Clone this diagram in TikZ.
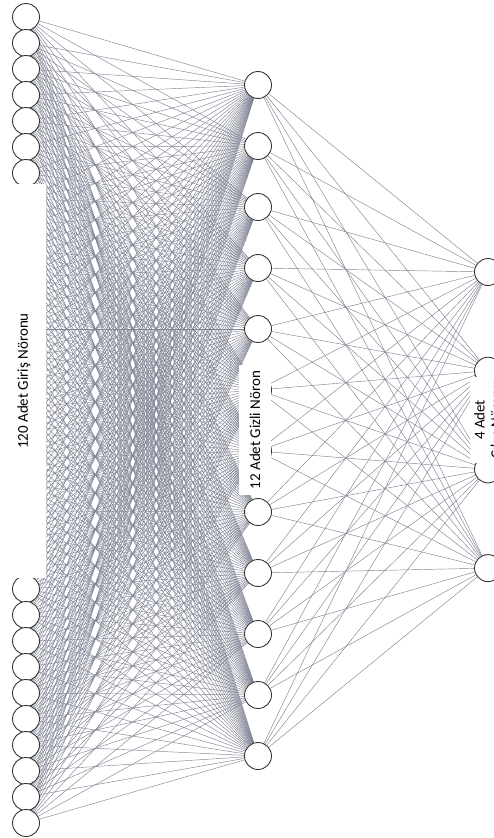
\documentclass[tikz,border=0pt]{standalone}
\usepackage{fontspec}
\setmainfont{Carlito}
\usepackage{tikz}
\usetikzlibrary{backgrounds}
\definecolor{wire}{RGB}{128,132,148}
\definecolor{rim}{RGB}{55,55,55}
\tikzset{
  neuron/.style ={circle, draw=rim, line width=0.9pt, fill=white, minimum size=27pt, inner sep=0pt},
  wire/.style   ={draw=wire, line width=0.45pt},
  tag/.style    ={fill=white, inner sep=4pt, align=center, font=\fontsize{15}{16.5}\selectfont},
}

\begin{document}
\begin{tikzpicture}[x=1pt, y=-1pt]
  \useasboundingbox (0,0) rectangle (494,838);
  \foreach \i in {1,...,32}
    \node[neuron] (in\i) at (26, {17+26*(\i-1)}) {};
  \foreach \j in {1,...,12}
    \node[neuron] (hid\j) at (258, {85+61*(\j-1)}) {};
  \foreach \k in {1,...,4}
    \node[neuron] (out\k) at (488, {272+98.7*(\k-1)}) {};
  \begin{scope}[on background layer]
    \foreach \i in {1,...,32}
      \foreach \j in {1,...,12}
        \draw[wire] (in\i) -- (hid\j);
    \foreach \j in {1,...,12}
      \foreach \k in {1,...,4}
        \draw[wire] (hid\j) -- (out\k);
  \end{scope}
  \node[tag, rotate=90, minimum width=394pt, minimum height=44pt] (intag) at (24,381) {120 Adet Giriş Nöronu};
  \node[tag, rotate=90, minimum width=130pt, minimum height=32pt] (hidtag) at (255,430) {12 Adet Gizli Nöron};
  \node[tag, rotate=90] (outtag) at (489,420) {4 Adet\\Çıkış Nöronu};
\end{tikzpicture}
\end{document}
